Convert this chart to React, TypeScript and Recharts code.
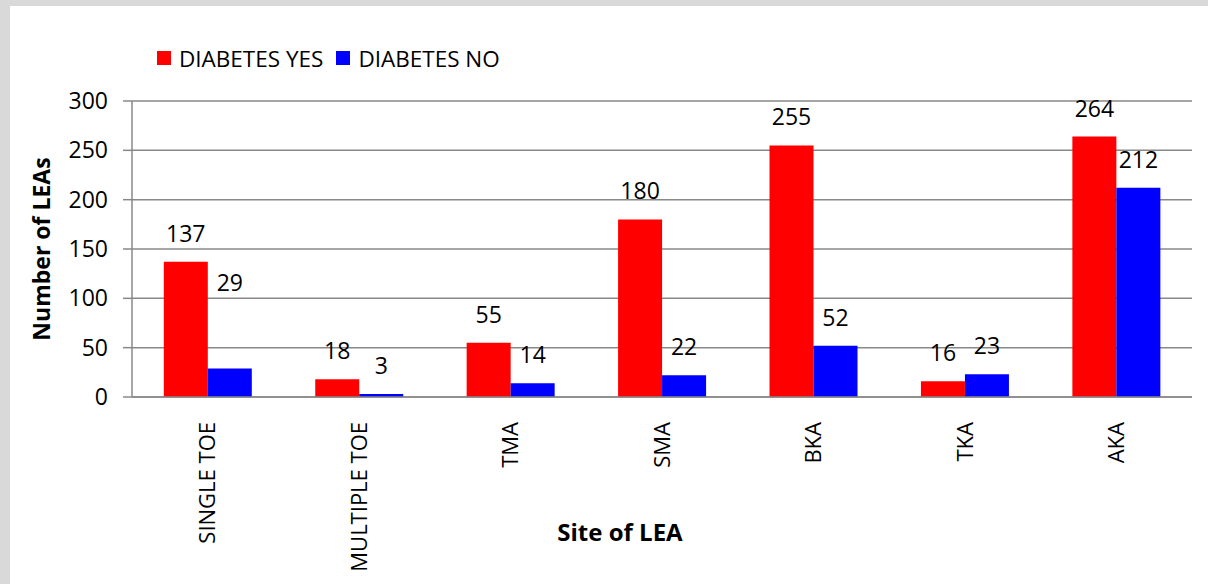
import { BarChart, Bar, XAxis, YAxis, CartesianGrid } from 'recharts';

// LEA site counts, split by diabetes status
const sites = ['SINGLE TOE', 'MULTIPLE TOE', 'TMA', 'SMA', 'BKA', 'TKA', 'AKA'];
const diabetesYes = [137, 18, 55, 180, 255, 16, 264];
const diabetesNo = [29, 3, 14, 22, 52, 23, 212];
const yTicks = [0, 50, 100, 150, 200, 250, 300];

const data = sites.map((site, i) => ({ site, yes: diabetesYes[i], no: diabetesNo[i] }));

const FONT = '"Open Sans", sans-serif';
const AXIS = '#888888';
const FS = 23;

function ValueLabel(props: any) {
  const { x, y, width, value, index, lift } = props;
  const extra = lift && index === 0 ? lift : 0;
  return (
    <text
      x={x + width / 2}
      y={y - 20 - extra}
      textAnchor="middle"
      fontFamily={FONT}
      fontSize={FS}
      fill="#000"
    >
      {value}
    </text>
  );
}

function SiteTick(props: any) {
  const { x, y, payload } = props;
  return (
    <text
      transform={`translate(${x},${y + 17}) rotate(-90)`}
      textAnchor="end"
      dy="0.35em"
      fontFamily={FONT}
      fontSize={22}
      fill="#000"
    >
      {payload.value}
    </text>
  );
}

function LegendBox() {
  const items = [
    { label: 'DIABETES YES', color: '#FF0000' },
    { label: 'DIABETES NO', color: '#0000FF' },
  ];
  return (
    <div
      style={{
        position: 'absolute',
        left: 147,
        top: 38,
        height: 28,
        display: 'flex',
        alignItems: 'center',
        fontFamily: FONT,
        fontSize: 22.5,
        color: '#000',
        whiteSpace: 'nowrap',
      }}
    >
      {items.map((it) => (
        <div key={it.label} style={{ display: 'flex', alignItems: 'center', marginRight: 13 }}>
          <span style={{ width: 14, height: 14, background: it.color, marginRight: 8, display: 'inline-block' }} />
          <span>{it.label}</span>
        </div>
      ))}
    </div>
  );
}

export default function App() {
  return (
    <div style={{ position: 'absolute', left: 0, top: 0, width: 1208, height: 584, background: '#D9D9D9' }}>
      <div style={{ position: 'absolute', left: 10, top: 6, width: 1198, height: 578, background: '#FFFFFF' }}>
        <LegendBox />
        <BarChart
          width={1198}
          height={578}
          data={data}
          margin={{ top: 95, right: 16, left: 62, bottom: 17 }}
          barGap={0}
          barCategoryGap="21%"
        >
          <CartesianGrid vertical={false} stroke={AXIS} strokeWidth={1.5} />
          <XAxis
            dataKey="site"
            height={170}
            interval={0}
            tickLine={false}
            axisLine={{ stroke: AXIS, strokeWidth: 1.5 }}
            tick={<SiteTick />}
            label={{
              content: (p: any) => {
                const vb = p.viewBox;
                return (
                  <text
                    x={vb.x + vb.width / 2 - 42}
                    y={vb.y + 144}
                    textAnchor="middle"
                    fontFamily={FONT}
                    fontSize={24}
                    fontWeight="bold"
                    fill="#000"
                  >
                    Site of LEA
                  </text>
                );
              },
            }}
          />
          <YAxis
            width={60}
            domain={[0, 300]}
            ticks={yTicks}
            interval={0}
            tickSize={9}
            tickMargin={15}
            tickLine={{ stroke: AXIS, strokeWidth: 1.5 }}
            axisLine={{ stroke: AXIS, strokeWidth: 1.5 }}
            tick={{ fontFamily: FONT, fontSize: FS, fill: '#000' }}
            label={{
              content: (p: any) => {
                const vb = p.viewBox;
                const cy = vb.y + vb.height / 2;
                return (
                  <text
                    transform={`translate(32,${cy}) rotate(-90)`}
                    textAnchor="middle"
                    dy="0.35em"
                    fontFamily={FONT}
                    fontSize={23}
                    fontWeight="bold"
                    fill="#000"
                  >
                    Number of LEAs
                  </text>
                );
              },
            }}
          />
          <Bar
            dataKey="yes"
            name="DIABETES YES"
            fill="#FF0000"
            isAnimationActive={false}
            label={<ValueLabel />}
          />
          <Bar
            dataKey="no"
            name="DIABETES NO"
            fill="#0000FF"
            isAnimationActive={false}
            label={<ValueLabel lift={57} />}
          />
        </BarChart>
      </div>
    </div>
  );
}
